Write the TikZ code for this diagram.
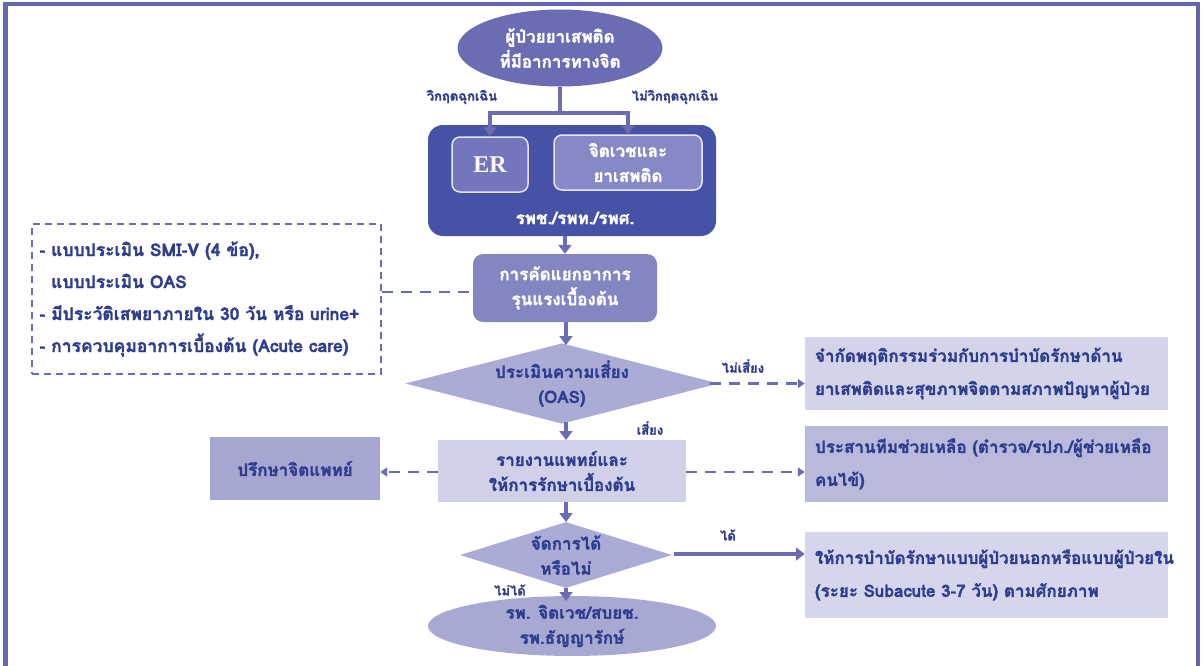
\documentclass[tikz,border=0pt]{standalone}
\usepackage{fontspec}
\setmainfont[Script=Thai, BoldFeatures={FakeBold=1.6}]{Loma}
\newfontfamily\erfont{Liberation Serif}
\usetikzlibrary{arrows.meta,shapes.geometric}
\definecolor{cFrame}{HTML}{6268B0}
\definecolor{cTop}{HTML}{6B6DB4}
\definecolor{cBig}{HTML}{4552A6}
\definecolor{cER}{HTML}{7376BC}
\definecolor{cPsy}{HTML}{8789C6}
\definecolor{cTri}{HTML}{8486C2}
\definecolor{cDia}{HTML}{ABACD6}
\definecolor{cL1}{HTML}{D3D3EA}
\definecolor{cL2}{HTML}{B9B9DC}
\definecolor{cL3}{HTML}{D5D5EB}
\definecolor{cRep}{HTML}{D0D0E8}
\definecolor{cCon}{HTML}{A5A6D1}
\definecolor{cBot}{HTML}{A8A9D3}
\definecolor{cTxt}{HTML}{2F3D8F}
\definecolor{cArr}{HTML}{6B6DB4}
\tikzset{
  conn/.style={draw=cArr, line width=3.6pt},
  arr/.style={conn, -{Triangle[width=13pt,length=9pt]}},
  darr/.style={draw=cArr, line width=2.8pt, dash pattern=on 11pt off 8pt, -{Triangle[width=9pt,length=7pt]}},
  dline/.style={draw=cArr, line width=2.8pt, dash pattern=on 11pt off 8pt},
  big/.style={font=\bfseries\fontsize{17}{25}\selectfont, align=center},
  wtxt/.style={text=white},
  btxt/.style={text=cTxt},
  lab/.style={text=cTxt, font=\bfseries\fontsize{13}{15}\selectfont},
  rbox/.style={rectangle, minimum width=363pt, text width=343pt, align=left, text=cTxt, font=\bfseries\fontsize{17}{33}\selectfont},
}
\begin{document}
\begin{tikzpicture}[x=1pt,y=-1pt]
\useasboundingbox (0,0) rectangle (1203,665);
% frame
\draw[draw=cFrame, line width=4.5pt] (5.5,667) -- (5.5,4) -- (1198,4) -- (1198,667);

% top ellipse
\node[ellipse, fill=cTop, minimum width=205pt, minimum height=77pt, big, wtxt, inner sep=0pt] (top) at (560,48) {ผู้ป่วยยาเสพติด\\ที่มีอาการทางจิต};

% hospital big box
\node[rectangle, rounded corners=15pt, fill=cBig, minimum width=288pt, minimum height=111pt] (hosp) at (572,180.5) {};
\node[big, wtxt] (hosplab) at (575,218) {รพช./รพท./รพศ.};
\node[rectangle, rounded corners=8pt, fill=cER, draw=white!80!cER, line width=1.5pt, minimum width=76pt, minimum height=55pt] (er) at (490,164.5) {\erfont\bfseries\fontsize{24}{26}\selectfont\color{white}ER};
\node[rectangle, rounded corners=8pt, fill=cPsy, draw=white!80!cPsy, line width=1.5pt, minimum width=148pt, minimum height=55pt, big, wtxt] (psy) at (628,162.5) {จิตเวชและ\\ยาเสพติด};

\coordinate (split) at (560,113);
\draw[conn] (top.south) -- (split);
\draw[arr] (split) -| (er.north);
\draw[arr] (split) -| (psy.north);
\node[lab] (lEm) at (462,97) {วิกฤตฉุกเฉิน};
\node[lab] (lNoEm) at (675,97) {ไม่วิกฤตฉุกเฉิน};

% triage
\node[rectangle, rounded corners=10pt, fill=cTri, minimum width=184pt, minimum height=68pt, big, wtxt] (tri) at (565,288) {การคัดแยกอาการ\\รุนแรงเบื้องต้น};
\draw[arr] (tri.north |- hosp.south) -- (tri.north);

% dashed info box
\node[rectangle, draw=cArr, line width=2pt, dash pattern=on 7pt off 5pt, minimum width=349pt, minimum height=150pt, text width=334pt, align=left, text=cTxt, font=\bfseries\fontsize{17.5}{32}\selectfont] (info) at (206.5,299) {- แบบประเมิน SMI-V (4 ข้อ),\\\hphantom{- }แบบประเมิน OAS\\- มีประวัติเสพยาภายใน 30 วัน หรือ urine+\\- การควบคุมอาการเบื้องต้น (Acute care)};
\draw[dline] (info.east |- 0,292) -- (tri.west |- 0,292);

% diamond 1
\node[diamond, fill=cDia, minimum width=297pt, minimum height=77pt, inner sep=0pt, aspect=3.9, big, btxt] (oas) at (562,383.5) {ประเมินความเสี่ยง\\(OAS)};
\draw[arr] (566,322) -- (566,345);

% box no-risk
\node[rbox, fill=cL1, minimum height=73pt] (norisk) at (986.5,373.5) {จำกัดพฤติกรรมร่วมกับการบำบัดรักษาด้าน\\ยาเสพติดและสุขภาพจิตตามสภาพปัญหาผู้ป่วย};
\draw[darr] (710,383.5) -- (norisk.west |- 0,383.5);
\node[lab] (lNoRisk) at (743,366) {ไม่เสี่ยง};

% report box
\node[rectangle, fill=cRep, minimum width=248pt, minimum height=62pt, big, btxt] (rep) at (562,471) {รายงานแพทย์และ\\ให้การรักษาเบื้องต้น};
\draw[arr] (566,422) -- (566,440);
\node[lab] (lRisk) at (650,428) {เสี่ยง};

% consult
\node[rectangle, fill=cCon, minimum width=170pt, minimum height=63pt, big, btxt] (con) at (295,468.5) {ปรึกษาจิตแพทย์};
\draw[darr] (rep.west |- 0,472) -- (con.east |- 0,472);

% coordinate team
\node[rbox, fill=cL2, minimum height=76pt] (team) at (986.5,464) {ประสานทีมช่วยเหลือ (ตำรวจ/รปภ./ผู้ช่วยเหลือ\\คนไข้)};
\draw[darr] (rep.east |- 0,472) -- (team.west |- 0,472);

% diamond 2
\node[diamond, fill=cDia, minimum width=212pt, minimum height=66pt, inner sep=0pt, aspect=3.2, big, btxt] (manage) at (566,555) {จัดการได้\\หรือไม่};
\draw[arr] (566,502) -- (566,522);

% box treat
\node[rbox, fill=cL3, minimum height=86pt] (treat) at (986.5,575) {ให้การบำบัดรักษาแบบผู้ป่วยนอกหรือแบบผู้ป่วยใน\\(ระยะ Subacute 3-7 วัน) ตามศักยภาพ};
\draw[arr] (674,554) -- (treat.west |- 0,554);
\node[lab] (lYes) at (728,535) {ได้};

% bottom ellipse
\node[ellipse, fill=cBot, minimum width=288pt, minimum height=58pt, inner sep=0pt, big, btxt] (hosp2) at (572,626) {รพ. จิตเวช/สบยช.\\รพ.ธัญญารักษ์};
\draw[arr] (566,588) -- (566,601);
\node[lab] (lNo) at (510,590) {ไม่ได้};
\end{tikzpicture}
\end{document}
